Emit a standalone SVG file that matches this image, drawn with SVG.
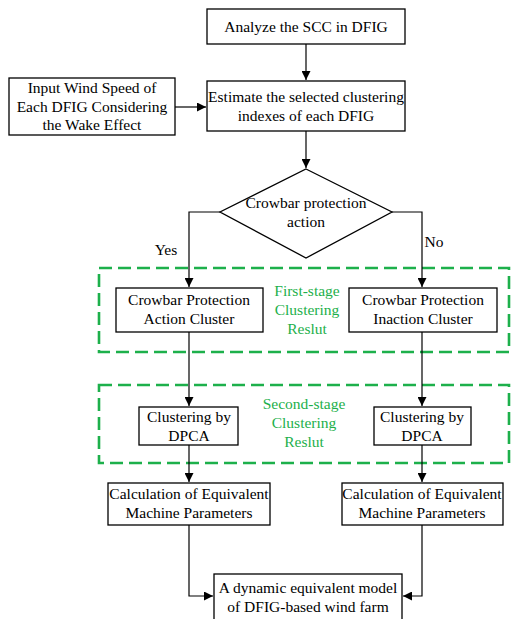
<svg xmlns="http://www.w3.org/2000/svg" width="511" height="619" viewBox="0 0 511 619">
<defs>
<style>
.box{fill:#fff;stroke:#000;stroke-width:1.3}
.t{fill:#000}
.g{fill:#1db04b}
.c{fill:none;stroke:#000;stroke-width:1.2}
.dash{fill:none;stroke:#1db04b;stroke-width:2.6;stroke-dasharray:13 6}
</style>
<marker id="ah" viewBox="0 0 10 10" refX="10" refY="5" markerWidth="9" markerHeight="9" markerUnits="userSpaceOnUse" orient="auto">
<path d="M0,0 L10,5 L0,10 z" fill="#000"/>
</marker>
</defs>
<rect width="511" height="619" fill="#fff"/>
<g id="stage-groups">
<rect class="dash" x="99" y="268" width="410" height="84"/>
<rect class="dash" x="99" y="385" width="410" height="78"/>
</g>
<g font-family="Liberation Serif, Times New Roman, DejaVu Serif, serif" font-size="15.5" text-anchor="middle">
<g id="connectors">
<path class="c" d="M306,44 V80" marker-end="url(#ah)"/>
<path class="c" d="M175,107 H206" marker-end="url(#ah)"/>
<path class="c" d="M306,131 V168" marker-end="url(#ah)"/>
<path class="c" d="M220,212 H189 V287" marker-end="url(#ah)"/>
<path class="c" d="M392,212 H422 V287" marker-end="url(#ah)"/>
<path class="c" d="M189,332 V406" marker-end="url(#ah)"/>
<path class="c" d="M422,332 V406" marker-end="url(#ah)"/>
<path class="c" d="M189,445 V482" marker-end="url(#ah)"/>
<path class="c" d="M422,445 V482" marker-end="url(#ah)"/>
<path class="c" d="M189,525 V596 H213" marker-end="url(#ah)"/>
<path class="c" d="M422,525 V596 H403" marker-end="url(#ah)"/>
<text class="t" x="166" y="255">Yes</text>
<text class="t" x="434" y="247">No</text>
</g>
<g id="analyze">
<rect class="box" x="207" y="9" width="198" height="35"/>
<text class="t" x="306" y="32">Analyze the SCC in DFIG</text>
</g>
<g id="input">
<rect class="box" x="9" y="78" width="166" height="57"/>
<text class="t" x="92" y="93">Input Wind Speed of</text>
<text class="t" x="92" y="112">Each DFIG Considering</text>
<text class="t" x="92" y="130">the Wake Effect</text>
</g>
<g id="estimate">
<rect class="box" x="207" y="81" width="198" height="50"/>
<text class="t" x="306" y="102">Estimate the selected clustering</text>
<text class="t" x="306" y="121">indexes of each DFIG</text>
</g>
<g id="decision">
<polygon class="box" points="306,169 392,212 306,258 220,212"/>
<text class="t" x="306" y="208">Crowbar protection</text>
<text class="t" x="306" y="227">action</text>
</g>
<g id="action-cluster">
<rect class="box" x="116" y="288" width="147" height="44"/>
<text class="t" x="189" y="305">Crowbar Protection</text>
<text class="t" x="189" y="324">Action Cluster</text>
</g>
<g id="inaction-cluster">
<rect class="box" x="349" y="288" width="148" height="44"/>
<text class="t" x="423" y="305">Crowbar Protection</text>
<text class="t" x="423" y="324">Inaction Cluster</text>
</g>
<g id="first-stage-label">
<text class="g" x="307" y="296">First-stage</text>
<text class="g" x="307" y="315">Clustering</text>
<text class="g" x="307" y="334">Reslut</text>
</g>
<g id="dpca-left">
<rect class="box" x="139" y="407" width="99" height="38"/>
<text class="t" x="189" y="422">Clustering by</text>
<text class="t" x="189" y="441">DPCA</text>
</g>
<g id="dpca-right">
<rect class="box" x="374" y="407" width="97" height="38"/>
<text class="t" x="422" y="422">Clustering by</text>
<text class="t" x="422" y="441">DPCA</text>
</g>
<g id="second-stage-label">
<text class="g" x="304" y="409">Second-stage</text>
<text class="g" x="304" y="428">Clustering</text>
<text class="g" x="304" y="447">Reslut</text>
</g>
<g id="calc-left">
<rect class="box" x="108" y="483" width="162" height="42"/>
<text class="t" x="189" y="499">Calculation of Equivalent</text>
<text class="t" x="189" y="518">Machine Parameters</text>
</g>
<g id="calc-right">
<rect class="box" x="342" y="483" width="161" height="42"/>
<text class="t" x="422" y="499">Calculation of Equivalent</text>
<text class="t" x="422" y="518">Machine Parameters</text>
</g>
<g id="model">
<rect class="box" x="214" y="574" width="188" height="50"/>
<text class="t" x="308" y="593">A dynamic equivalent model</text>
<text class="t" x="308" y="612">of DFIG-based wind farm</text>
</g>
</g>
</svg>
